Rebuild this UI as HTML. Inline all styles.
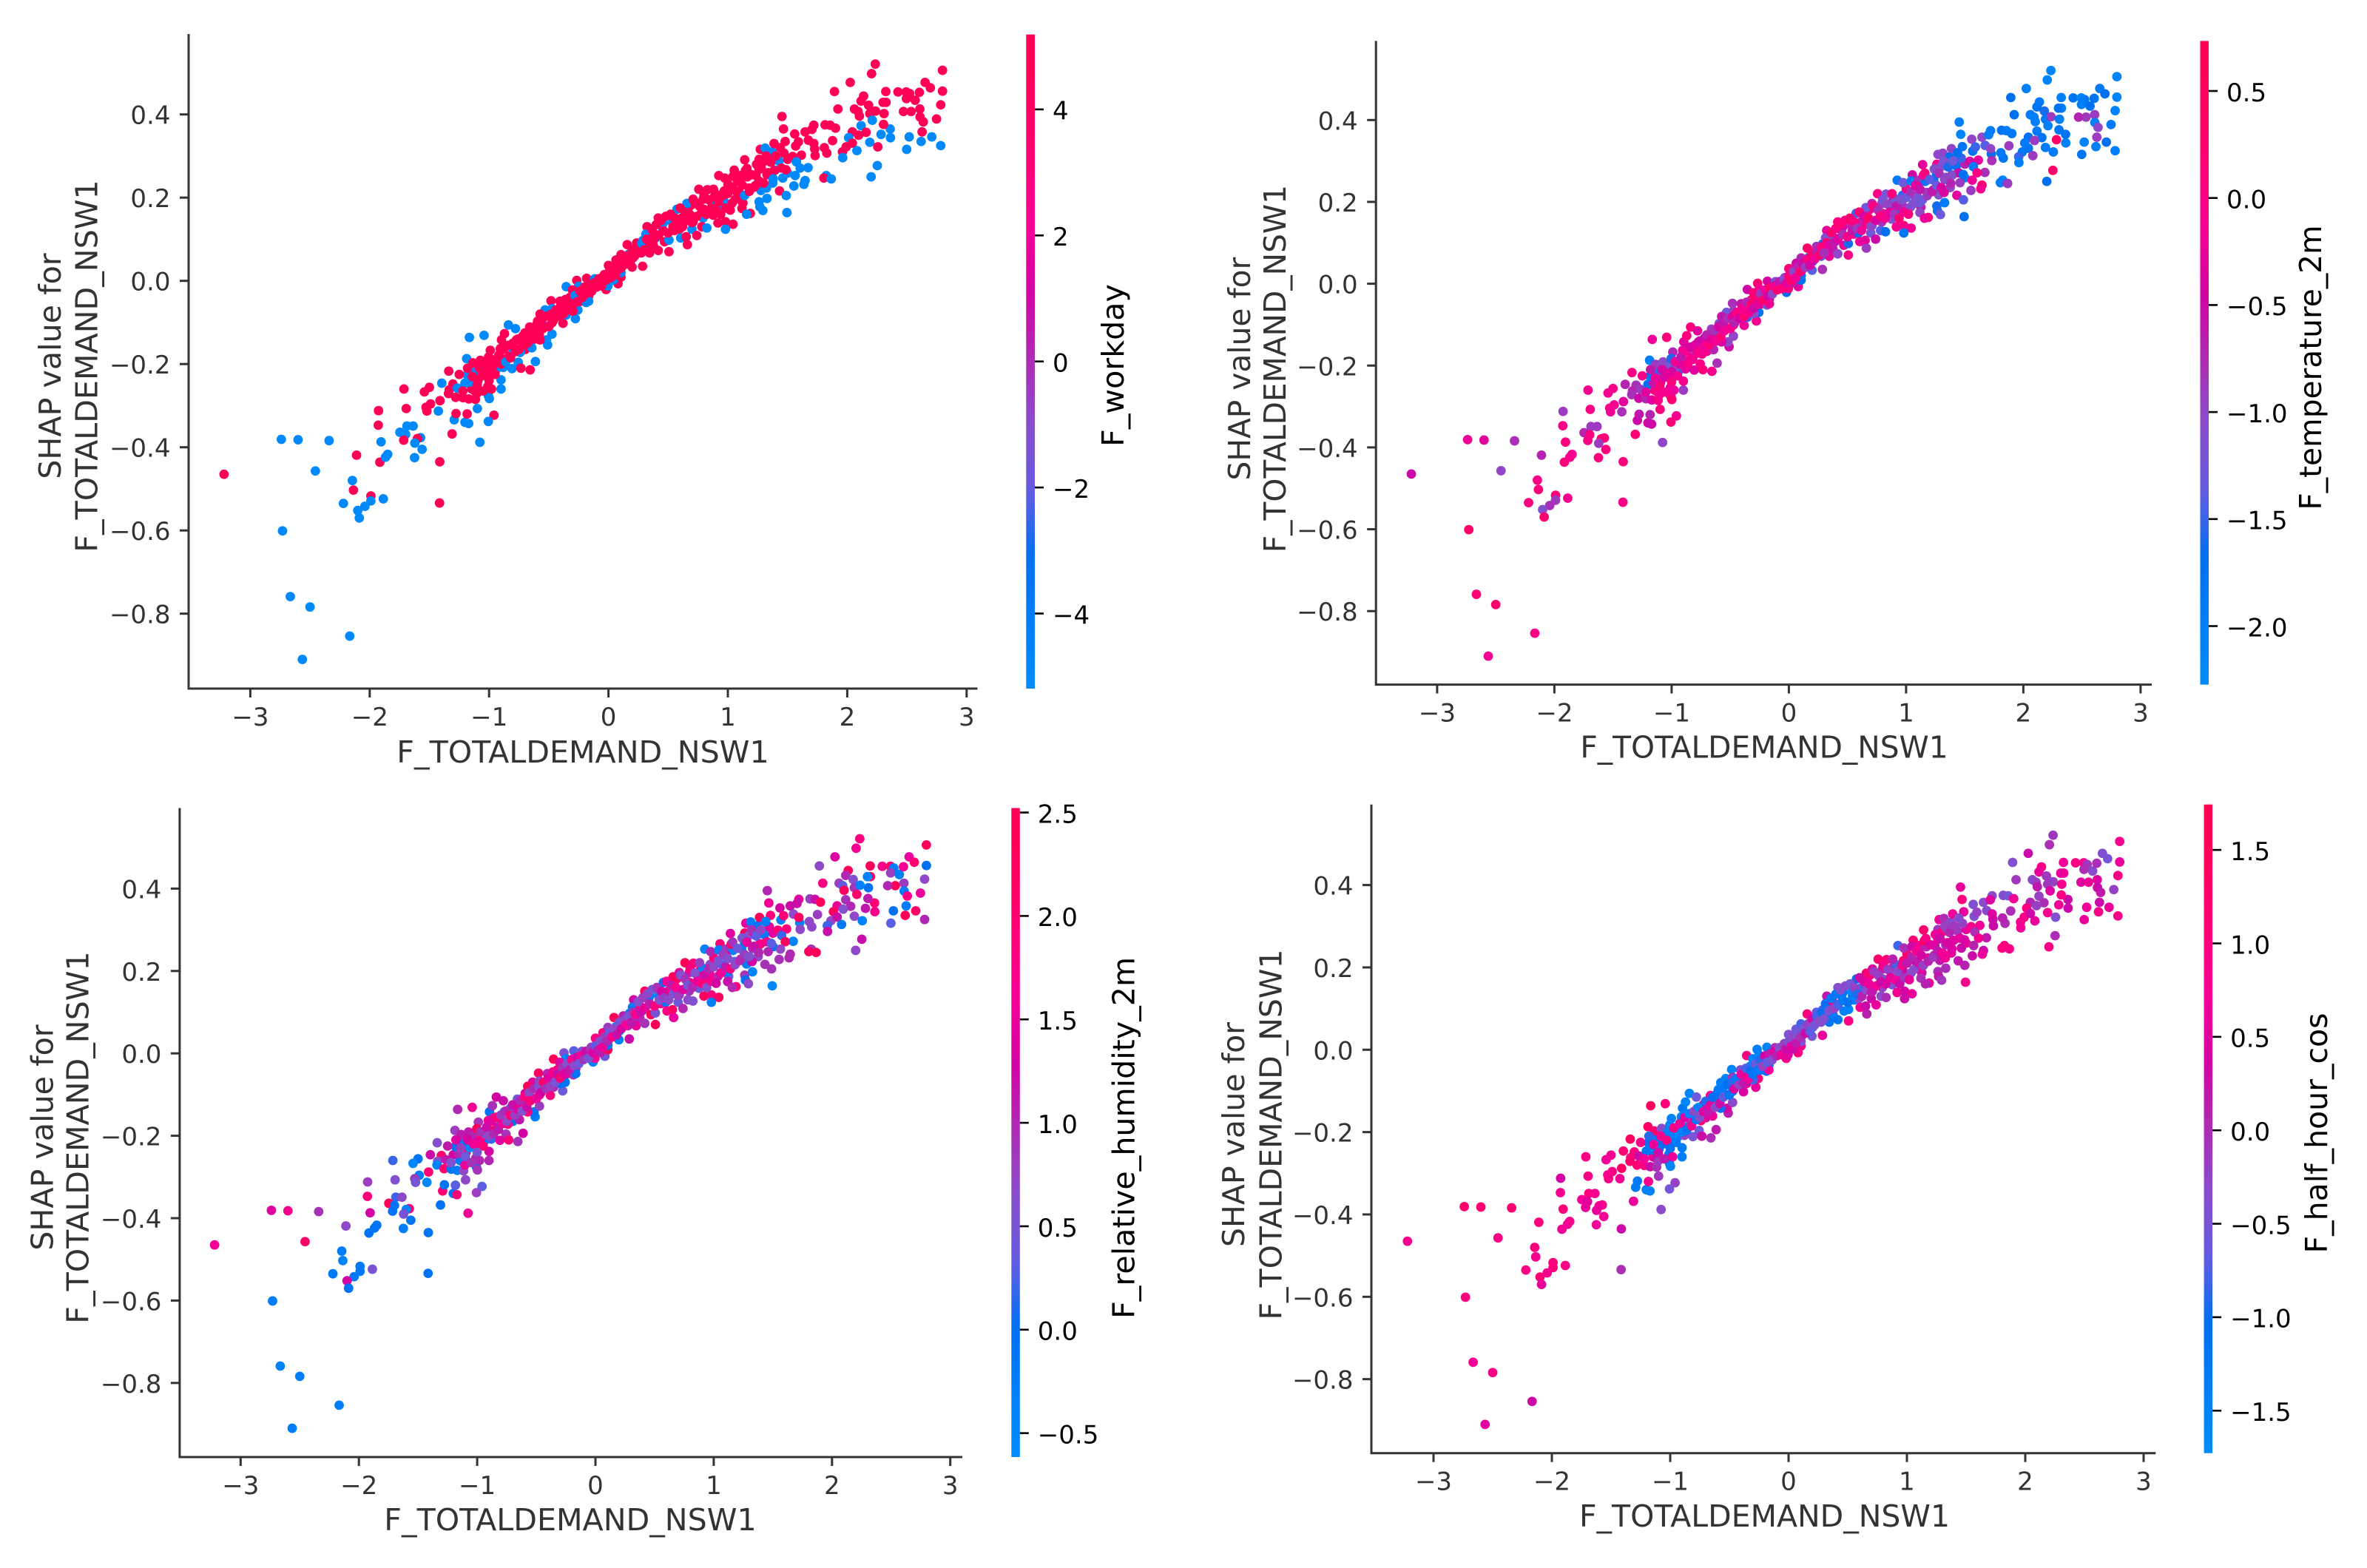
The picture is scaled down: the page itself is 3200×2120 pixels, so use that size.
<!DOCTYPE html>
<html lang="en">
<head>
<meta charset="utf-8">
<title>SHAP dependence plots for F_TOTALDEMAND_NSW1</title>
<style>
html,body{margin:0;padding:0;background:#fff;}
svg{display:block;}
text{font-family:"DejaVu Sans","Liberation Sans",sans-serif;}
.axis-title{font-size:41.2px;fill:#333;text-anchor:middle;}
.cb-title{font-size:41.2px;fill:#000;text-anchor:middle;}
.spine{stroke:#333;stroke-width:3;fill:none;}
</style>
</head>
<body>
<svg id="figure" xmlns="http://www.w3.org/2000/svg" width="3200" height="2120" viewBox="0 0 3200 2120">
  <defs>
    <linearGradient id="cmap" x1="0" y1="1" x2="0" y2="0"></linearGradient>
  </defs>
  <rect x="0" y="0" width="3200" height="2120" fill="#fff"/>

  <g id="panel-workday">
    <path class="spine" d="M255 46V931H1321.4"/>
    <text class="axis-title" x="788" y="1031">F_TOTALDEMAND_NSW1</text>
    <text class="axis-title" transform="translate(82,495) rotate(-90)">SHAP value for</text>
    <text class="axis-title" transform="translate(131.5,495) rotate(-90)">F_TOTALDEMAND_NSW1</text>
    <rect x="1387.3" y="46.7" width="11.7" height="884.3" fill="url(#cmap)"/>
    <text class="cb-title" transform="translate(1519,494) rotate(-90)">F_workday</text>
  </g>

  <g id="panel-temperature">
    <path class="spine" d="M1860.2 55.4V925.6H2909"/>
    <text class="axis-title" style="font-size:40.7px" x="2385" y="1024.5">F_TOTALDEMAND_NSW1</text>
    <text class="axis-title" style="font-size:40.7px" transform="translate(1690,498.6) rotate(-90)">SHAP value for</text>
    <text class="axis-title" style="font-size:40.7px" transform="translate(1737.8,498.6) rotate(-90)">F_TOTALDEMAND_NSW1</text>
    <rect x="2974.5" y="55.4" width="11.5" height="870.2" fill="url(#cmap)"/>
    <text class="cb-title" style="font-size:40.7px" transform="translate(3138,497) rotate(-90)">F_temperature_2m</text>
  </g>

  <g id="panel-humidity">
    <path class="spine" d="M242.9 1092.5V1970H1301"/>
    <text class="axis-title" x="771" y="2068.8">F_TOTALDEMAND_NSW1</text>
    <text class="axis-title" transform="translate(71.4,1538) rotate(-90)">SHAP value for</text>
    <text class="axis-title" transform="translate(119.4,1538) rotate(-90)">F_TOTALDEMAND_NSW1</text>
    <rect x="1367.3" y="1092.5" width="11.5" height="877.5" fill="url(#cmap)"/>
    <text class="cb-title" transform="translate(1533.7,1538.4) rotate(-90)">F_relative_humidity_2m</text>
  </g>

  <g id="panel-halfhour">
    <path class="spine" d="M1854 1087.7V1964.7H2914.3"/>
    <text class="axis-title" style="font-size:41px" x="2385.5" y="2064">F_TOTALDEMAND_NSW1</text>
    <text class="axis-title" style="font-size:41px" transform="translate(1682,1534) rotate(-90)">SHAP value for</text>
    <text class="axis-title" style="font-size:41px" transform="translate(1732.6,1534) rotate(-90)">F_TOTALDEMAND_NSW1</text>
    <rect x="2979.6" y="1087.7" width="11.5" height="877" fill="url(#cmap)"/>
    <text class="cb-title" style="font-size:41px" transform="translate(3146,1532) rotate(-90)">F_half_hour_cos</text>
  </g>
</svg>

<script>
const pointX = [
-3.22,-2.74,-2.6,-2.34,-2.455,-2.11,-2.145,-2.136,-1.99,-1.99,
-1.886,-2.22,-2.04,-2.1,-2.087,-2.73,-2.665,-2.5,-2.167,-2.564,
-1.915,-1.868,-1.849,-1.905,-1.928,-1.926,-1.415,
-1.713,-1.5,-1.542,-1.338,-1.396,-1.303,-1.334,-1.34,-1.265,-1.411,
-1.49,-1.528,-1.521,-1.425,-1.694,-1.688,-1.636,-1.747,-1.699,-1.715,
-1.574,-1.6,-1.622,-1.561,-1.624,-1.413,-1.31,-1.077,-1.292,-1.277,
-1.202,-1.171,-1.184,-1.098,-.959,-1.006,-1.28,-1.219,-1.169,-1.115,
-1.146,-1.121,-1.104,-1.006,-.998,-1.011,-.9,-.9,-1,-1.202,
-1.157,-1.094,-1.184,-1.115,-1.063,-1.067,-1.188,-1.136,-1.073,-1.021,
-1.165,-1.042,-.99,-1.004,-.942,-.969,-.931,-.881,-.917,-.854,
-.823,-.756,-.808,-.733,-.656,-.612,-.896,-.871,-.838,-.779,
-.906,-.869,-.771,-.719,-.656,-.802,-.698,-.74,-.642,-.66,
-.51,-.519,-.473,-.583,-.573,-.656,-.521,-.473,-.594,-.531,
-.573,-.481,-.381,-.277,-.427,-.354,-.358,-.333,-.256,-.298,
-.406,-.473,-.25,-.229,-.166,-.187,-.166,-.323,-.354,-.266,
-.25,-.181,-.183,-.302,-.114,-.114,-.02,-.004,.08,.042,
-.062,-.035,.105,.105,.011,.111,.198,.286,.063,0,
.063,.105,.157,.171,.205,.275,.236,.288,.323,.313,
.376,.334,.396,.376,.344,.417,.448,.469,.507,.417,
.507,.459,.536,.553,.594,.542,.574,.615,.605,.651,
.661,.699,.709,.74,.792,.782,.824,.876,.688,.657,
.709,.757,.828,.793,.797,.855,.886,.907,.959,.965,
.917,.98,1.043,.98,1.036,1.126,1.118,1.116,1.188,1.157,
1.262,1.268,1.293,1.328,1.495,1.278,1.178,1.074,.97,1.001,
1.053,.924,.974,1.043,1.105,1.163,1.101,1.147,1.236,1.261,
1.23,1.328,1.376,1.376,1.324,1.141,1.272,1.262,1.297,1.334,
1.313,1.37,1.407,1.428,1.501,1.47,1.397,1.449,1.501,1.46,
2.235,2.204,2.798,2.025,1.893,2.137,2.116,2.179,2.06,2.091,
2.102,1.922,2.189,2.237,2.308,2.21,2.323,2.325,2.3,2.425,
2.494,2.523,2.496,2.569,2.604,2.652,2.696,2.798,2.783,2.608,
2.61,2.535,2.471,2.637,2.748,2.627,2.519,2.708,2.619,2.783,
2.498,2.362,2.36,2.304,2.283,2.116,2.158,2.043,2.095,2.012,
1.991,2.043,2.189,2.256,2.081,1.96,1.962,2.252,2.2,1.824,
1.804,1.866,1.829,1.808,1.727,1.731,1.453,1.466,1.56,1.647,
1.72,1.704,1.814,1.856,1.902,1.877,1.674,1.568,1.591,1.48,
1.387,1.439,1.72,1.616,1.543,1.574,1.672,1.605,1.487,1.387,
1.564,1.647,1.637,1.553,1.433,1.489,
-1,-.97,-.95,-.92,-.9,-.88,-.86,-.84,-.82,-.8,
-.78,-.76,-.75,-.72,-.7,-.68,-.66,-.64,-.62,-.6,
-.58,-.56,-.55,-.52,-.5,-.48,-.46,-.44,-.42,-.4,
-.38,-.36,-.34,-.32,-.3,-.28,-.26,-.24,-.22,-.2,
-.18,-.16,-.14,-.12,-.1,-.08,-.06,-.04,-.02,0,
.02,.04,.06,.08,.1,.12,.14,.16,.18,.2,
.22,.24,.26,.28,.3,.32,.34,.36,.38,.4,
.42,.44,.46,.48,.5,.52,.54,.56,.58,.6,
.62,.64,.66,.68,.7,.72,.74,.76,.78,.8,
.82,.84,.86,.88,.9,.92,.94,.96,.98,1,
1.02,1.04,1.06,1.08,1.1,1.12,1.14,1.16,1.18,1.2,
1.22,1.24,1.26,1.28,1.3,1.32,1.34,1.36,1.38,1.4,
-1.25,-1.22,-1.18,-1.14,-1.1,-1.08,-1.05,-1.03,-1,-.98
];
const shapValues = [
-.465,-.381,-.382,-.384,-.457,-.419,-.48,-.503,-.517,-.529,
-.524,-.535,-.542,-.552,-.57,-.601,-.759,-.784,-.854,-.91,
-.436,-.424,-.417,-.387,-.347,-.312,-.534,
-.26,-.256,-.267,-.217,-.246,-.248,-.262,-.271,-.258,-.288,
-.296,-.304,-.313,-.313,-.307,-.349,-.349,-.364,-.369,-.383,
-.377,-.379,-.39,-.405,-.425,-.435,-.368,-.388,-.334,-.319,
-.34,-.343,-.32,-.307,-.323,-.338,-.28,-.281,-.284,-.285,
-.26,-.264,-.271,-.276,-.283,-.254,-.26,-.238,-.227,-.246,
-.243,-.241,-.226,-.217,-.229,-.201,-.187,-.197,-.191,-.199,
-.136,-.131,-.167,-.183,-.214,-.205,-.196,-.208,-.178,-.187,
-.179,-.196,-.211,-.21,-.214,-.194,-.142,-.127,-.106,-.115,
-.163,-.157,-.142,-.133,-.145,-.163,-.165,-.172,-.161,-.111,
-.154,-.142,-.128,-.124,-.142,-.124,-.109,-.101,-.097,-.07,
-.08,-.048,-.102,-.091,-.07,-.082,-.063,-.058,-.07,-.073,
-.049,-.067,-.043,-.049,-.037,-.052,-.049,-.04,-.014,.001,
-.013,-.018,.006,-.022,.005,-.007,-.021,-.012,-.007,.002,
-.004,.015,.009,.02,.025,.033,.033,.035,.034,.037,
.05,.063,.087,.064,.055,.067,.091,.097,.13,.112,
.115,.079,.103,.085,.067,.151,.13,.094,.07,.073,
.098,.139,.14,.121,.124,.154,.172,.151,.103,.106,
.087,.124,.142,.109,.151,.13,.127,.158,.181,.186,
.196,.22,.219,.196,.172,.192,.202,.207,.181,.193,
.139,.142,.136,.124,.187,.187,.174,.198,.162,.16,
.19,.178,.169,.198,.164,.217,.223,.214,.216,.232,
.266,.253,.247,.251,.253,.25,.238,.265,.253,.268,
.229,.255,.247,.235,.223,.291,.316,.292,.286,.294,
.319,.31,.292,.288,.292,.307,.266,.271,.259,.247,
.521,.498,.506,.477,.455,.444,.432,.422,.413,.407,
.396,.413,.402,.408,.402,.386,.455,.429,.429,.454,
.454,.45,.438,.434,.453,.477,.464,.456,.423,.413,
.394,.407,.407,.382,.389,.358,.346,.346,.335,.325,
.316,.344,.365,.376,.352,.373,.357,.358,.35,.344,
.322,.331,.333,.322,.313,.31,.296,.277,.25,.253,
.247,.245,.307,.32,.317,.301,.395,.365,.353,.358,
.374,.364,.375,.374,.367,.337,.338,.324,.334,.335,
.33,.32,.33,.302,.299,.286,.272,.271,.267,.265,
.253,.241,.232,.228,.216,.205,
-.215,-.19,-.225,-.18,-.2,-.165,-.195,-.155,-.185,-.15,
-.17,-.14,-.165,-.15,-.125,-.15,-.135,-.115,-.14,-.105,
-.13,-.095,-.115,-.085,-.11,-.08,-.095,-.07,-.085,-.06,
-.08,-.045,-.07,-.05,-.06,-.035,-.05,-.025,-.04,-.015,
-.03,-.01,-.025,-.005,-.015,.005,-.012,.012,.002,.018,
.008,.03,.015,.04,.03,.05,.04,.06,.045,.075,
.06,.08,.07,.09,.075,.1,.095,.125,.1,.135,
.11,.145,.12,.155,.115,.16,.13,.15,.135,.175,
.13,.165,.145,.16,.14,.19,.155,.18,.165,.205,
.16,.195,.175,.22,.17,.19,.16,.205,.175,.21,
.17,.225,.195,.24,.21,.23,.205,.27,.215,.255,
.225,.28,.24,.27,.235,.3,.26,.285,.245,.3,
-.225,-.265,-.21,-.23,-.25,-.21,-.265,-.22,-.24,-.26
];
const workdayValues = [
5,-5,-5,-5,-5,5,-5,5,5,-5,
-5,-5,-5,-5,-5,-5,-5,-5,-5,-5,
5,-5,-5,-5,5,5,5,
5,5,5,5,-5,5,5,5,-5,5,
5,5,5,-5,5,-5,-5,-5,-5,5,
-5,5,-5,-5,-5,5,5,-5,-5,5,
-5,-5,5,-5,5,-5,5,5,5,5,
5,5,5,-5,-5,5,-5,-5,5,-5,
-5,5,-5,-5,5,-5,-5,5,5,5,
-5,-5,5,5,-5,5,5,-5,5,5,
5,-5,-5,5,5,-5,5,5,-5,-5,
5,5,5,5,-5,-5,5,-5,-5,5,
-5,-5,-5,5,5,5,-5,5,5,-5,
5,5,5,-5,5,-5,5,5,-5,5,
5,-5,-5,5,5,-5,-5,5,-5,5,
-5,5,5,5,-5,5,5,-5,5,-5,
5,5,5,-5,5,5,5,5,-5,5,
5,5,5,-5,5,5,5,-5,5,-5,
5,5,-5,5,5,5,-5,5,5,5,
-5,-5,-5,5,5,5,-5,5,-5,5,
5,-5,5,5,-5,5,-5,5,5,-5,
5,5,5,5,5,-5,5,5,-5,-5,
5,5,5,-5,5,5,5,5,5,-5,
-5,-5,-5,-5,-5,-5,5,5,5,5,
5,5,5,5,5,5,5,5,5,5,
5,5,-5,-5,-5,5,5,5,5,5,
-5,-5,5,-5,5,5,-5,5,-5,-5,
5,5,5,5,5,5,5,5,5,5,
5,5,5,5,5,-5,5,5,5,5,
5,5,5,5,5,5,5,5,5,5,
5,5,5,5,5,5,-5,-5,-5,-5,
-5,-5,-5,5,-5,-5,5,5,5,-5,
5,5,-5,5,-5,5,-5,-5,-5,-5,
5,-5,5,5,5,5,5,5,5,5,
5,5,5,5,5,5,5,5,5,5,
5,5,5,5,5,-5,-5,-5,5,5,
-5,-5,-5,-5,5,-5,
5,5,5,5,5,5,-5,5,5,5,
5,5,5,5,5,5,5,5,5,5,
5,5,5,5,5,5,5,5,5,5,
5,5,5,5,5,-5,5,5,5,5,
5,5,5,5,5,5,5,5,5,5,
5,5,5,5,5,5,5,5,5,5,
5,5,5,-5,5,5,5,5,5,5,
5,5,5,5,5,5,5,5,5,5,
5,5,5,5,5,5,5,5,5,5,
5,5,5,5,5,5,5,5,5,5,
5,5,5,5,5,5,-5,5,5,5,
5,5,5,5,5,5,5,5,-5,5,
5,5,5,5,5,5,5,5,5,5
];
const temperatureValues = [
-.5,-.2,-.3,-.8,-1,-.7,0,.1,.1,-.9,
-.1,.1,-.8,-1.1,.2,.3,.2,.3,0,-.1,
.1,0,-.1,.1,0,-.9,0,
-.1,0,-.1,0,-.7,-.8,-.7,-.8,-.9,-.3,
-.1,0,-.2,-.8,0,-.9,-.9,-.7,.1,0,
.1,.2,-.9,.1,.1,.1,.2,-1,-.5,-.6,
-.5,-.5,-.7,.1,-.1,.1,-.5,-.7,-.3,0,
0,.1,-.1,.1,.2,-.3,-.9,-.1,0,-1.7,
-.6,-.4,-1.8,-1.5,-.4,-.5,-2,-.9,-1,-1.2,
-.2,.1,-.7,-1.6,-1.6,-1,-.5,-.2,-.3,.1,
-.2,0,-.3,.1,-.1,-.8,-.3,.1,.1,-.3,
-.2,-.4,-.1,-.5,-.7,-.9,-.1,0,-.7,-.9,
-.5,-1,-1,-.8,-.4,-.7,-.2,.1,-1.2,-1.3,
-.6,-.8,-.2,-.1,-.9,-1.5,-.3,-.1,-1.7,-1.1,
-.6,-.9,-.7,.3,-.4,-1.3,-.2,.2,-.5,.2,
-.1,-1.1,-.4,.1,-1.2,.2,-1.7,.1,-.2,-.6,
-1.8,-1,-1.7,-1.6,0,-1,-1.4,-.8,.2,.1,
-.5,-.7,.3,-1.8,-1.7,-1.4,-.8,-1.6,-.3,-1.1,
-1.2,-1,-.9,-.6,-.2,.1,.1,-.2,0,-1,
-1.6,-.5,-.7,-.1,-1.7,-.2,-1.5,-.7,-.2,-.3,
-.9,-1.3,-1.2,-.5,-.8,-1.4,-1.7,-1.1,-.1,-1.3,
-.7,0,-1.2,-.9,-.1,-1.8,-.5,-1.2,-1.9,-.8,
-.1,0,-.2,-1.8,-1.1,-.6,-1,-1.3,.1,-.2,
-1.6,-1.6,-1.3,-1.9,-1.7,-1.1,-.9,-.9,-1.5,0,
-.5,-1.9,-1.3,-2,-.8,-1.8,-.4,-.1,-1.6,-1.7,
-.7,-1,-1.8,-1,-.4,-.3,-1,-.1,-1.1,-1.1,
-1,-1.7,-1.9,-1.7,-.7,-1.5,-1,-.5,-1.9,-.9,
-2.1,-2.1,-2.1,-2,-1.7,-1.9,-1.8,-1.6,-1.9,-2,
-2,-1.7,-1.9,-.9,-2,-2,-2,-2,-1.8,-1.8,
-2.1,-1.9,-2,-1.7,-1.8,-1.9,-1.7,-2.1,-2.1,-.9,
-2,-.9,-.7,-1,-1.9,-.9,-2.1,-1.7,-2,-2,
-1.8,-2,-1.8,-1.8,.4,-1.9,-1.8,-1.7,-.9,-1.9,
-1.9,-1.8,-1.9,-1.9,-.9,-1.5,-2,.3,-1.7,-2,
-2,-.9,-1.8,-1.9,-1.7,-.8,-2,-2.1,-1,-1,
-1.9,-2,-1.8,-1.9,-1.9,-.9,-1.4,-1.7,-1.5,-1.8,
-1,-1.7,-1,-.3,-.4,-1.9,-.8,0,-1.7,-1.1,
-.2,.3,-.1,-.9,-.3,-1.4,
-.5,-.2,-.1,-.6,-.3,-.1,0,-.4,-.1,-.3,
0,-.5,-.1,-.2,-.7,.1,-.3,-.8,-.1,-.4,
.1,-.6,-.2,-.8,-.1,-.3,-.7,.1,-.4,-.1,
.2,-.7,-.1,.3,-.5,.2,-.3,-.9,.3,-.2,
-.4,.3,-1,-.1,.2,-.6,.1,-1.1,-.3,.1,
.3,-1,-.2,-.7,.2,-.5,-.9,.1,-.4,.3,
-.2,-.7,.2,.1,-.8,.3,-.3,.2,-.6,.1,
-.3,.2,-.8,.1,0,.2,-.6,.1,-.9,.2,
-.2,-.4,-.1,.3,-1,.1,-.4,-.8,.1,-1.2,
-.1,-1,-.3,.1,-.9,-.6,.2,-1.1,-.2,-1.3,
.1,-.8,-1.1,-.3,-1.2,-.6,-1.3,.1,-.9,-1.4,
-.6,-1.1,-1.3,-.8,-.4,-1.2,-1,-1.6,-.7,-1.3,
0,-.3,-.6,-.2,.1,-.4,-.1,-.3,.1,-.2
];
const humidityValues = [
1.6,1.4,1.7,.9,2.1,.7,-.3,-.4,-.2,-.2,
.5,-.2,-.2,1.3,-.1,-.3,-.4,-.3,-.3,-.3,
-.1,-.1,-.1,1.3,1.9,.8,-.1,
.2,-.1,-.5,.6,1.2,2,.6,-.4,1.1,1.9,
-.3,.8,.5,-.5,.6,.2,.7,2.4,-.1,-.1,
2,-.4,.5,-.1,-.3,-.1,-.1,1.6,1.9,-.1,
-.1,1.9,.3,.7,.3,.8,2,-.1,-.3,.7,
-.2,-.3,1.5,-.2,.9,1,1,1.3,1.3,1.3,
1,1.8,-.1,-.2,-.5,-.5,.8,1.1,1.1,1,
1,1.6,.9,2.3,-.1,1.9,.6,.2,1.9,2.4,
1.3,.9,1.4,1.9,.9,1.3,-.1,.9,1.3,1.2,
1.6,1,-.4,.3,-.1,.9,-.1,1.9,1.1,.4,
-.3,-.1,.8,1.1,1.8,1.9,1.9,1.9,1.2,1.4,
2.4,2.2,1.8,.4,.8,1,2.4,2.3,-.1,-.1,
1,.7,1.1,.9,1,.9,-.1,1.9,2.3,.6,
-.4,-.1,.3,1.4,.5,2,-.4,1.6,.4,1.1,
1.9,.7,2.3,-.1,1.4,.9,-.4,1.2,-.1,1.8,
1.9,.8,2.4,-.3,-.4,1,1.1,-.2,1.3,-.2,
1.9,.6,.7,1,1.5,2.2,1.9,2.4,2.4,.9,
.5,-.3,-.4,1.8,-.2,.7,-.1,1.7,1.8,2.1,
1.5,.4,.5,1,.9,.7,.6,.4,2,2.3,
1.4,2.4,1.9,1.1,2,1,1.9,-.4,2,1.6,
2.2,1.9,2.2,-.3,1,.4,1.2,-.3,1.9,1,
.9,0,.7,-.4,-.5,-.3,.3,.2,.7,1.9,
1.9,-.4,1,-.3,.8,-.3,1.5,2.2,-.3,-.1,
1,1,-.2,.7,1.3,1.4,1.5,2.2,.6,1.7,
-.3,-.1,-.3,-.3,1.4,1.5,1.9,1.7,-.1,1,
1.8,1.6,2.3,1.4,.7,2.3,1,.6,.8,.3,
2.2,1.8,.9,-.4,-.1,2,2.3,2.2,-.4,1.7,
2.1,-.3,.8,-.4,1.6,1.5,2,0,.7,.8,
-.3,2.3,1,1.8,1.5,-.3,0,2.1,2.4,1,
.3,1.7,2,1.1,1.1,.9,1,1.5,.6,2.3,
.7,1.2,.7,-.4,-.2,.2,1.2,1.2,.7,.9,
2.2,2.3,.7,.7,-.4,.7,1,1.6,1.3,1.2,
1.4,1.2,.8,1.2,2.3,.8,.7,-.4,1.9,1.9,
2.3,-.3,2.2,1.9,1.9,.2,-.4,2.3,.3,1.7,
.7,1,1,.9,.9,.9,
1.5,.9,1.9,1.2,.7,1.4,1,1.9,1.1,.8,
1.6,1,.7,1.9,1.2,.8,1.4,1,.6,1.8,
1.2,.7,1.9,1,1.5,.6,1.3,2.1,.9,1.4,
.8,1.7,.5,1.2,1.9,.9,1.4,.6,1.1,1.8,
.7,1.3,.4,1.6,.9,1.2,.5,.8,1.4,.3,
1.1,.6,1.5,.8,1,.4,1.7,.7,1.2,.5,
1.3,.7,1.6,.5,1.1,.9,1.7,.6,1.2,.8,
1.5,.7,1.1,.5,1.8,.9,.6,1.3,.8,1.6,
.7,1.1,.5,1.7,.8,.6,1.4,.9,.5,1.8,
1,.6,1.5,.8,1.9,1.2,.6,1,1.7,.7,
1.3,.5,1.6,.8,1.1,.6,1.8,.9,.7,.4,
1,.5,.8,1.5,.6,.9,1.2,.3,1,.7,
1.1,.6,1.4,.8,.4,1.3,.9,1.6,.5,1
];
const halfHourValues = [
.8,1.2,1.2,1.1,.9,1,1,.8,1,1,
.9,.9,.8,1.1,.6,1,.7,.9,.3,.5,
.7,.7,.8,1,.8,.4,0,
.9,.8,.7,1.4,1.1,1,1,1.2,.3,1.3,
.9,.8,.9,.8,.9,1,.8,.7,.5,.6,
.9,.7,.6,.7,.7,.3,.6,-.3,-1.3,-1.3,
-1.4,-1.5,.8,-.1,-.2,-.5,1.1,.9,.3,0,
.8,.3,-.1,-1.4,-1.6,-1.2,-1.4,-1.3,-1.2,-1.2,
-1.3,-1.4,-1.1,-1.3,-1,-1.5,1.3,1.2,-.3,-1.5,
1.4,1,-1.5,-1.6,-1.4,-1.5,-1.6,-.2,-1.6,-1.5,
-.1,-.6,-.5,.3,0,.2,-1.2,-1.6,-1.6,-.6,
-1.6,-1.5,-1.3,.6,-.3,.5,.4,1.1,.6,.8,
.1,.4,-.3,-.9,-1,-.4,-.6,-1.2,-1.4,-1.5,
-1.4,-1.6,.4,.6,.7,.5,.1,0,1,-.8,
-.3,-.1,-1.1,-1.3,-1.2,-1,.7,-1.5,1,-1.4,
-1.4,-1.2,-1.5,-1.5,0,.7,.9,.5,.9,.3,
.5,-.3,.8,-.4,-.2,-.1,-.5,.6,-.3,-.4,
-.6,-.8,1,-.3,-.6,-.4,-.7,-.8,.2,-1,
.7,-1.3,-.5,-1.3,-1.2,-.3,-1.4,-1.4,.9,-1.2,
-1.5,-1.2,-1.5,-1.4,-.3,-1.5,-1,-.8,.7,.3,
.1,.3,-.2,.6,-.2,-.3,0,-.4,.9,1.1,
.5,1.2,1,.2,-.4,-.3,.7,-.8,.2,.3,
.8,.4,.6,.3,-.3,.3,0,.6,.6,.1,
0,.2,-.1,0,.8,.2,.7,.3,1,1.2,
1.1,-.8,0,.3,.8,.1,.2,1.3,.3,.6,
.2,0,-.1,.6,.7,1.2,.7,-.1,1,-.2,
0,-.3,.1,-.1,.6,-.2,.4,.6,.9,.3,
-.1,0,.8,.3,-.4,.9,.6,-.1,-.3,-.2,
.2,-.1,-.1,-.2,.8,.5,.7,.7,.6,.9,
.8,-.1,0,-.3,0,-.4,-.5,.6,.9,.5,
.3,.7,.5,.2,-.2,.3,.7,.6,.9,.9,
.6,.3,.3,.9,.7,-.2,0,.1,-.2,.9,
.9,.3,.8,-.4,.6,.8,.7,0,.9,.9,
1,.9,0,.1,.3,.3,.6,1,-.4,-.3,
-.3,.5,-.4,-.5,.7,0,-.3,-.4,-.2,.6,
.7,-.3,.5,.7,.8,0,.2,.8,.4,.5,
.1,.3,.6,.3,.2,.1,
-1.5,.9,-1.3,.7,-1.4,.5,-1.2,-1.5,.8,-.3,
-1.3,-1.5,-.4,.5,-.9,.2,.6,-1,-.3,-1.2,
.3,-1.3,-.7,-1.1,-1.2,-.9,.4,-1.3,-.2,.6,
.2,-.8,.7,-1,-1.2,-.6,-1.3,-.9,-.2,.4,
-.7,.2,-.4,.5,.1,-.3,.6,-.2,.3,-.4,
.5,-.3,.2,-.5,0,-.6,.3,-.2,-.7,.4,
-.5,-.8,-.3,-1,-.4,-1.2,-.5,-1.3,-.2,-1.2,
-.8,-.4,-1.3,-.3,-1.1,-.5,-1.4,-.2,-.9,.3,
.1,.5,-.3,.6,.2,-.1,.7,-.2,.3,.8,
.4,-.2,.6,.1,.7,-.3,.3,.8,-.1,.2,
.6,.1,-.3,.7,.2,.4,-.2,.9,.1,.5,
-.1,.6,.2,.3,.7,-.2,.4,.1,.5,-.1,
.9,.7,-.9,.6,.3,.8,.2,.9,-1.1,.6
];

const xTickValues = [-3,-2,-1,0,1,2,3];
const yTickValues = [-0.8,-0.6,-0.4,-0.2,0,0.2,0.4];
const workdayTicks = [-4,-2,0,2,4];
const temperatureTicks = [-2,-1.5,-1,-0.5,0,0.5];
const humidityTicks = [-0.5,0,0.5,1,1.5,2,2.5];
const halfHourTicks = [-1.5,-1,-0.5,0,0.5,1,1.5];

const SVGNS = 'http://www.w3.org/2000/svg';
const cmapStops = [
  [0,0,139,251],[0.1,0,126,250],[0.2,0,111,240],[0.27,70,98,232],[0.31,105,90,222],
  [0.4,135,78,205],[0.5,172,45,180],[0.6,208,5,165],[0.7,243,0,150],[0.8,255,0,120],
  [0.9,255,0,95],[1,255,0,81]
];
function cmapColor(t){
  t = Math.max(0, Math.min(1, t));
  for (let i = 1; i < cmapStops.length; i++) {
    const a = cmapStops[i-1], b = cmapStops[i];
    if (t <= b[0]) {
      const f = (t - a[0]) / (b[0] - a[0]);
      return 'rgb(' + [1,2,3].map(k => Math.round(a[k] + (b[k]-a[k]) * f)).join(',') + ')';
    }
  }
  return 'rgb(255,0,81)';
}
function make(tag, attrs, parent, content){
  const el = document.createElementNS(SVGNS, tag);
  for (const k in attrs) el.setAttribute(k, attrs[k]);
  if (content !== undefined) el.textContent = content;
  parent.appendChild(el);
  return el;
}
function fmt(v, d){
  const s = Math.abs(v).toFixed(d);
  return (v < -1e-9 ? '\u2212' : '') + s;
}
const grad = document.getElementById('cmap');
cmapStops.forEach(s => {
  make('stop', {offset: s[0], 'stop-color': 'rgb(' + s[1] + ',' + s[2] + ',' + s[3] + ')'}, grad);
});

const panels = [
  {id:'panel-workday', xZero:822.6, xUnit:161.4, yZero:379.7, yUnit:562.5, left:255, bottom:931,
   cbRight:1399, cbZero:488.7, cbUnit:85.2, cbMin:-5.2, cbMax:5.2, decimals:0, values:workdayValues, ticks:workdayTicks},
  {id:'panel-temperature', xZero:2418.4, xUnit:158.5, yZero:383.6, yUnit:553.3, left:1860.2, bottom:925.6,
   cbRight:2986, cbZero:267.7, cbUnit:289.4, cbMin:-2.273, cbMax:0.733, decimals:1, values:temperatureValues, ticks:temperatureTicks},
  {id:'panel-humidity', xZero:805, xUnit:159.9, yZero:1424.2, yUnit:557, left:242.9, bottom:1970,
   cbRight:1378.8, cbZero:1797.8, cbUnit:279.7, cbMin:-0.616, cbMax:2.52, decimals:1, values:humidityValues, ticks:humidityTicks},
  {id:'panel-halfhour', xZero:2418, xUnit:160, yZero:1419.3, yUnit:556.7, left:1854, bottom:1964.7,
   cbRight:2991.1, cbZero:1528.2, cbUnit:252.7, cbMin:-1.727, cbMax:1.743, decimals:1, values:halfHourValues, ticks:halfHourTicks}
];

panels.forEach(p => {
  const root = document.getElementById(p.id);
  const xScale = v => p.xZero + v * p.xUnit;
  const yScale = v => p.yZero - v * p.yUnit;
  const cbScale = v => p.cbZero - v * p.cbUnit;
  const colorScale = v => cmapColor((v - p.cbMin) / (p.cbMax - p.cbMin));

  xTickValues.forEach(v => {
    const x = xScale(v);
    const tick = make('line', {x1:x, x2:x, y1:p.bottom, y2:p.bottom + 12, stroke:'#333', 'stroke-width':3}, root);
    
    
    const label = make('text', {x:x, y:p.bottom + 50, 'text-anchor':'middle', 'font-size':34, fill:'#333'}, root, fmt(v, 0));
    
    
  });

  yTickValues.forEach(v => {
    const y = yScale(v);
    const tick = make('line', {x1:p.left - 12, x2:p.left, y1:y, y2:y, stroke:'#333', 'stroke-width':3}, root);
    
    
    const label = make('text', {x:p.left - 24.5, y:y + 13, 'text-anchor':'end', 'font-size':34, fill:'#333'}, root, fmt(v, 1));
    
    
  });

  p.ticks.forEach(v => {
    const y = cbScale(v);
    const tick = make('line', {x1:p.cbRight, x2:p.cbRight + 12, y1:y, y2:y, stroke:'#000', 'stroke-width':2.6}, root);
    
    
    const label = make('text', {x:p.cbRight + 24, y:y + 13.8, 'font-size':34, fill:'#000'}, root, fmt(v, p.decimals));
    
    
  });

  const marks = make('g', {}, root);
  
  
  pointX.forEach((xv, i) => {
    const dot = make('circle', {cx:xScale(xv), cy:yScale(shapValues[i]), r:6.4, fill:colorScale(p.values[i])}, marks);
    
    
  });
});
</script>
</body>
</html>
